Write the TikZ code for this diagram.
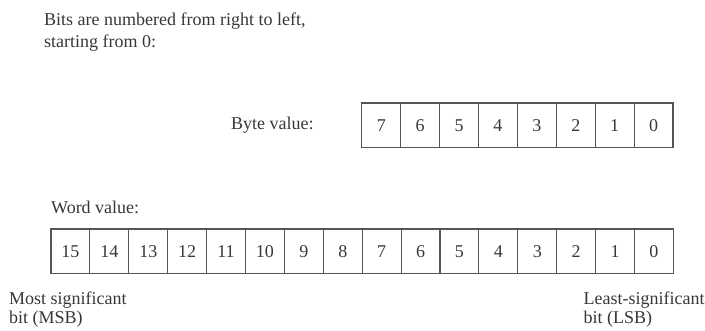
\documentclass[tikz,border=0pt]{standalone}
\usepackage{fontspec}
\setmainfont{Liberation Serif}
\usepackage{xcolor}
\usepackage{tikz}
\usetikzlibrary{positioning}
\definecolor{InkGray}{RGB}{55,55,55}
\definecolor{RuleGray}{RGB}{85,85,85}

\begin{document}
\begin{tikzpicture}[x=1pt,y=1pt,node distance=0pt,every node/.style={font=\fontsize{18}{22}\selectfont,text=InkGray}]
\tikzset{bitcell/.style={draw=RuleGray,line width=1.1pt,minimum width=38.9pt,minimum height=44.5pt,inner sep=0pt,outer sep=0pt},note/.style={inner sep=0pt,align=left}}
\useasboundingbox (0,0) rectangle (705,-330);
\node[note,anchor=north west] (intro) at (44,-12.5) {Bits are numbered from right to left,\\starting from 0:};
% byte row
\node[bitcell,anchor=north west] (b7) at (361.8,-103) {7};
\node[bitcell,right=of b7] (b6) {6};
\node[bitcell,right=of b6] (b5) {5};
\node[bitcell,right=of b5] (b4) {4};
\node[bitcell,right=of b4] (b3) {3};
\node[bitcell,right=of b3] (b2) {2};
\node[bitcell,right=of b2] (b1) {1};
\node[bitcell,right=of b1] (b0) {0};
\node[note,left=48pt of b7] (bytelbl) {Byte value:};
% word row
\node[bitcell,anchor=north west] (w15) at (51,-229) {15};
\node[bitcell,right=of w15] (w14) {14};
\node[bitcell,right=of w14] (w13) {13};
\node[bitcell,right=of w13] (w12) {12};
\node[bitcell,right=of w12] (w11) {11};
\node[bitcell,right=of w11] (w10) {10};
\node[bitcell,right=of w10] (w9) {9};
\node[bitcell,right=of w9] (w8) {8};
\node[bitcell,right=of w8] (w7) {7};
\node[bitcell,right=of w7] (w6) {6};
\node[bitcell,right=of w6] (w5) {5};
\node[bitcell,right=of w5] (w4) {4};
\node[bitcell,right=of w4] (w3) {3};
\node[bitcell,right=of w3] (w2) {2};
\node[bitcell,right=of w2] (w1) {1};
\node[bitcell,right=of w1] (w0) {0};
\node[note,anchor=base west] (wordlbl) at ([yshift=16pt]w15.north west) {Word value:};
\node[note,anchor=north west,font=\fontsize{18}{19.5}\selectfont] (msb) at ([xshift=-42pt,yshift=-18pt]w15.south west) {Most significant\\bit (MSB)};
\node[note,anchor=north west,font=\fontsize{18}{19.5}\selectfont] (lsb) at ([xshift=-90pt,yshift=-18pt]w0.south east) {Least-significant\\bit (LSB)};
\end{tikzpicture}
\end{document}
